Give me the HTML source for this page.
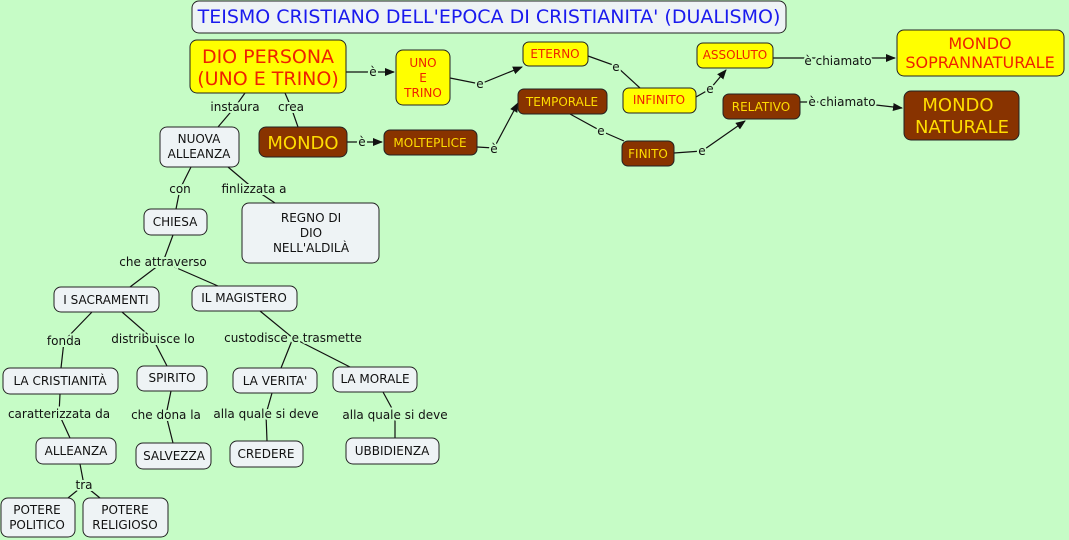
<!DOCTYPE html>
<html><head><meta charset="utf-8"><style>
html,body{margin:0;padding:0;background:#c6fcc6;}
svg{display:block;font-family:"DejaVu Sans","Liberation Sans",sans-serif;}
.w{fill:#eef3f5;stroke:#222;stroke-width:1}
.y{fill:#ffff00;stroke:#222;stroke-width:1}
.b{fill:#883300;stroke:#222;stroke-width:1}
.tw{fill:#111;font-size:12px;text-anchor:middle}
.ty{fill:#ee2200;font-size:12px;text-anchor:middle}
.tb{fill:#ffdd00;font-size:12px;text-anchor:middle}
.l{fill:#111;font-size:12px;text-anchor:middle;stroke:#c6fcc6;stroke-width:4;paint-order:stroke}
line,polyline{stroke:#111;stroke-width:1.2;fill:none}
</style></head><body>
<svg width="1069" height="540" viewBox="0 0 1069 540">
<defs><marker id="a" markerWidth="10" markerHeight="10" refX="9" refY="4" orient="auto" markerUnits="userSpaceOnUse"><path d="M0,0 L10,4 L0,8 z" fill="#111"/></marker></defs>
<line x1="346" y1="72" x2="394" y2="72" marker-end="url(#a)"/>
<polyline points="450,78 480,84 522,67" marker-end="url(#a)"/>
<polyline points="588,56 616,66 640,88"/>
<polyline points="696,97 710,89 726,70" marker-end="url(#a)"/>
<line x1="773" y1="58" x2="895" y2="58" marker-end="url(#a)"/>
<polyline points="800,102 850,102 902,108" marker-end="url(#a)"/>
<line x1="347" y1="142" x2="382" y2="142" marker-end="url(#a)"/>
<polyline points="477,147 494,148 518,103" marker-end="url(#a)"/>
<polyline points="570,114 601,131 624,141"/>
<polyline points="674,153 702,151 745,121" marker-end="url(#a)"/>
<polyline points="245,93 235,107 218,127"/>
<polyline points="285,93 291,107 298,127"/>
<polyline points="191,167 180,189 176,209"/>
<polyline points="228,167 254,189 275,203"/>
<polyline points="173,235 163,262 130,287"/>
<polyline points="163,262 218,286"/>
<polyline points="92,312 64,341 61,368"/>
<polyline points="122,312 153,339 167,366"/>
<polyline points="260,311 293,338 281,368"/>
<polyline points="293,338 350,367"/>
<polyline points="60,394 59,414 70,438"/>
<polyline points="171,391 166,415 173,443"/>
<polyline points="272,393 266,414 267,441"/>
<polyline points="383,392 395,414 395,438"/>
<polyline points="80,464 84,485 68,498"/>
<polyline points="84,485 100,498"/>
<rect class="w" x="192" y="1" width="594" height="32" rx="7"/>
<text x="489" y="23" style="fill:#1a1aee;font-size:19px;text-anchor:middle">TEISMO CRISTIANO DELL'EPOCA DI CRISTIANITA' (DUALISMO)</text>
<rect class="y" x="190" y="40" width="156" height="53" rx="7"/>
<text class="ty" style="font-size:19px" x="268" y="63">DIO PERSONA</text>
<text class="ty" style="font-size:19px" x="268" y="85">(UNO E TRINO)</text>
<rect class="y" x="396" y="50" width="54" height="55" rx="7"/>
<text class="ty" x="423" y="67">UNO</text><text class="ty" x="423" y="82">E</text><text class="ty" x="423" y="97">TRINO</text>
<rect class="y" x="523" y="42" width="65" height="24" rx="6"/><text class="ty" x="555" y="58">ETERNO</text>
<rect class="b" x="518" y="89" width="89" height="25" rx="6"/><text class="tb" x="562" y="106">TEMPORALE</text>
<rect class="y" x="623" y="88" width="73" height="25" rx="6"/><text class="ty" x="659" y="104">INFINITO</text>
<rect class="y" x="697" y="43" width="76" height="25" rx="6"/><text class="ty" x="735" y="59">ASSOLUTO</text>
<rect class="y" x="897" y="30" width="167" height="46" rx="7"/>
<text class="ty" style="font-size:16px" x="980" y="49">MONDO</text><text class="ty" style="font-size:16px" x="980" y="68">SOPRANNATURALE</text>
<rect class="b" x="723" y="94" width="77" height="25" rx="6"/><text class="tb" x="761" y="111">RELATIVO</text>
<rect class="b" x="904" y="91" width="115" height="49" rx="7"/>
<text class="tb" style="font-size:18px" x="958" y="111">MONDO</text><text class="tb" style="font-size:18px" x="962" y="133">NATURALE</text>
<rect class="b" x="622" y="141" width="52" height="25" rx="6"/><text class="tb" x="648" y="158">FINITO</text>
<rect class="b" x="384" y="130" width="93" height="25" rx="6"/><text class="tb" x="430" y="147">MOLTEPLICE</text>
<rect class="b" x="259" y="127" width="88" height="30" rx="7"/><text class="tb" style="font-size:18px" x="303" y="149">MONDO</text>
<rect class="w" x="160" y="127" width="79" height="40" rx="7"/>
<text class="tw" x="199" y="143">NUOVA</text><text class="tw" x="199" y="158">ALLEANZA</text>
<rect class="w" x="144" y="209" width="63" height="26" rx="7"/><text class="tw" x="175" y="226">CHIESA</text>
<rect class="w" x="242" y="203" width="137" height="60" rx="7"/>
<text class="tw" x="311" y="222">REGNO DI</text><text class="tw" x="311" y="237">DIO</text><text class="tw" x="311" y="252">NELL'ALDILÀ</text>
<rect class="w" x="54" y="287" width="105" height="25" rx="7"/><text class="tw" x="106" y="304">I SACRAMENTI</text>
<rect class="w" x="192" y="286" width="105" height="25" rx="7"/><text class="tw" x="244" y="302">IL MAGISTERO</text>
<rect class="w" x="3" y="368" width="115" height="26" rx="7"/><text class="tw" x="60" y="385">LA CRISTIANITÀ</text>
<rect class="w" x="137" y="366" width="70" height="25" rx="7"/><text class="tw" x="172" y="382">SPIRITO</text>
<rect class="w" x="233" y="368" width="84" height="25" rx="7"/><text class="tw" x="275" y="385">LA VERITA'</text>
<rect class="w" x="333" y="367" width="84" height="25" rx="7"/><text class="tw" x="375" y="383">LA MORALE</text>
<rect class="w" x="36" y="438" width="80" height="26" rx="7"/><text class="tw" x="76" y="455">ALLEANZA</text>
<rect class="w" x="136" y="443" width="75" height="26" rx="7"/><text class="tw" x="174" y="460">SALVEZZA</text>
<rect class="w" x="230" y="441" width="73" height="26" rx="7"/><text class="tw" x="266" y="458">CREDERE</text>
<rect class="w" x="346" y="438" width="93" height="26" rx="7"/><text class="tw" x="392" y="455">UBBIDIENZA</text>
<rect class="w" x="1" y="498" width="74" height="39" rx="7"/>
<text class="tw" x="37" y="514">POTERE</text><text class="tw" x="37" y="529">POLITICO</text>
<rect class="w" x="83" y="498" width="85" height="39" rx="7"/>
<text class="tw" x="125" y="514">POTERE</text><text class="tw" x="125" y="529">RELIGIOSO</text>
<text class="l" x="373" y="76">è</text>
<text class="l" x="480" y="88">e</text>
<text class="l" x="616" y="71">e</text>
<text class="l" x="710" y="93">e</text>
<text class="l" x="838" y="65">è chiamato</text>
<text class="l" x="842" y="106">è chiamato</text>
<text class="l" x="362" y="146">è</text>
<text class="l" x="494" y="153">è</text>
<text class="l" x="601" y="135">e</text>
<text class="l" x="702" y="155">e</text>
<text class="l" x="235" y="111">instaura</text>
<text class="l" x="291" y="111">crea</text>
<text class="l" x="180" y="193">con</text>
<text class="l" x="254" y="193">finlizzata a</text>
<text class="l" x="163" y="266">che attraverso</text>
<text class="l" x="64" y="345">fonda</text>
<text class="l" x="153" y="343">distribuisce lo</text>
<text class="l" x="293" y="342">custodisce e trasmette</text>
<text class="l" x="59" y="418">caratterizzata da</text>
<text class="l" x="166" y="419">che dona la</text>
<text class="l" x="266" y="418">alla quale si deve</text>
<text class="l" x="395" y="419">alla quale si deve</text>
<text class="l" x="84" y="489">tra</text>
</svg>
</body></html>
